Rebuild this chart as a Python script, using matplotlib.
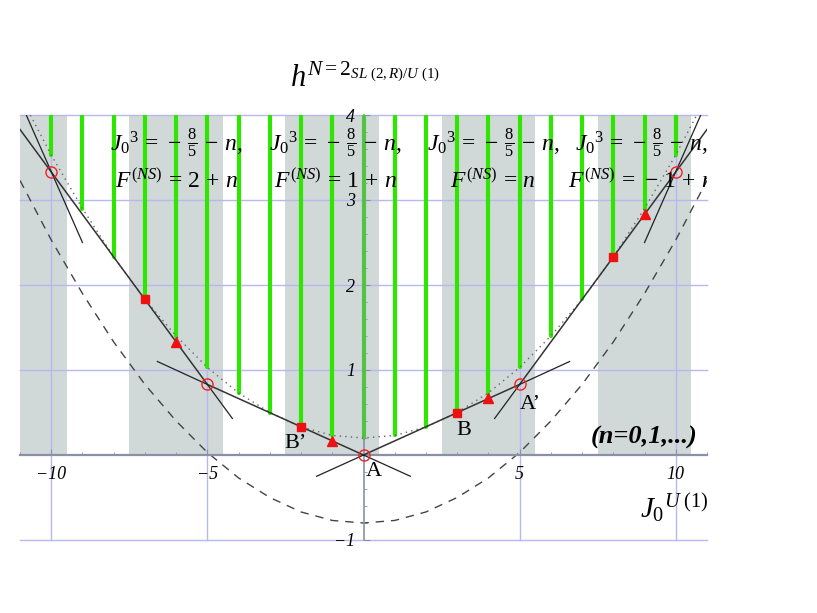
import matplotlib
matplotlib.use("Agg")
import matplotlib.pyplot as plt
from matplotlib.ticker import MultipleLocator

plt.rcParams['mathtext.fontset'] = 'custom'
plt.rcParams['mathtext.rm'] = 'Liberation Serif'
plt.rcParams['mathtext.it'] = 'Liberation Serif:italic'
plt.rcParams['mathtext.bf'] = 'Liberation Serif:bold'
plt.rcParams['font.family'] = ['Liberation Serif', 'DejaVu Serif']

# curves sampled at integer J0
xs = list(range(-11, 12))
dotted_h = [4.23, 3.53, 2.90, 2.33, 1.83, 1.40, 1.03, 0.73, 0.50, 0.33, 0.23, 0.20,
            0.23, 0.33, 0.50, 0.73, 1.03, 1.40, 1.83, 2.33, 2.90, 3.53, 4.23]
dashed_h = [3.23, 2.53, 1.90, 1.33, 0.83, 0.40, 0.03, -0.27, -0.50, -0.67, -0.77, -0.80,
            -0.77, -0.67, -0.50, -0.27, 0.03, 0.40, 0.83, 1.33, 1.90, 2.53, 3.23]

# green bars from the dotted curve up to the top
green_x = list(range(-10, 11))
green_bottom = [3.53, 2.90, 2.33, 1.83, 1.40, 1.03, 0.73, 0.50, 0.33, 0.23, 0.20,
                0.23, 0.33, 0.50, 0.73, 1.03, 1.40, 1.83, 2.33, 2.90, 3.53]

main_x = [-11, -10, -5, 0, 5, 10, 11]
main_h = [3.83, 3.33, 0.83, 0.0, 0.83, 3.33, 3.83]

# short crossing segments (x0, h0, x1, h1)
segs = [(-10.8, 4.0, -9.0, 2.5),
        (-6.6, 1.10, -5.0, 0.83),
        (-5.0, 0.83, -4.2, 0.43),
        (-1.5, -0.25, 0.0, 0.0),
        (0.0, 0.0, 1.5, -0.25),
        (4.2, 0.43, 5.0, 0.83),
        (5.0, 0.83, 6.6, 1.10),
        (9.0, 2.5, 10.8, 4.0)]

sq_x = [-7, -2, 3, 8]
sq_h = [1.83, 0.33, 0.50, 2.33]
tri_x = [-6, -1, 4, 9]
tri_h = [1.33, 0.17, 0.67, 2.83]
circ_x = [-10, -5, 0, 5, 10]
circ_h = [3.33, 0.83, 0.0, 0.83, 3.33]

band_lo = [-12.5, -7.5, -2.5, 2.5, 7.5]
band_hi = [-9.5, -4.5, 0.5, 5.5, 10.5]

block_x = [-6.0, -0.9, 4.15, 8.9]
f_labels = [r'2\,+\,n', r'\mathit{1}\,+\,n', r'n', r'-\,\mathit{1}\,+\,n']

fig = plt.figure(figsize=(8.17, 6.13), dpi=100)
ax = fig.add_axes([20/817, 1-540/613, 687/817, 425/613])
ax.set_xlim(-11, 11)
ax.set_ylim(-1, 4)

for lo, hi in zip(band_lo, band_hi):
    ax.fill_between([lo, hi], 0, 4, color='#d1d8d8', lw=0, zorder=0)

for x, b in zip(green_x, green_bottom):
    ax.plot([x, x], [b, 4], color='#2ee600', lw=3, solid_capstyle='round', zorder=2)

ax.plot(xs, dotted_h, color='#666666', lw=1, ls=(0, (1, 3)), zorder=3)
ax.plot(xs, dashed_h, color='#444444', lw=1, ls=(0, (6, 5)), zorder=3)
ax.plot(main_x, main_h, color='#333333', lw=1.1, zorder=4)
for x0, h0, x1, h1 in segs:
    ax.plot([x0, x1], [h0, h1], color='#222222', lw=0.9, zorder=4)

ax.plot(sq_x, sq_h, 's', color='#ee1111', ms=6, zorder=5)
ax.plot(tri_x, tri_h, '^', color='#ee1111', ms=7, zorder=5)
ax.plot(circ_x, circ_h, 'o', mfc='none', mec='#ee2222', mew=1, ms=8, zorder=5)

# axes through origin
for s in ['top', 'right']:
    ax.spines[s].set_visible(False)
ax.spines['bottom'].set_position('zero')
ax.spines['left'].set_position('zero')
ax.spines['bottom'].set_color('#8a90a8')
ax.spines['bottom'].set_linewidth(1.6)
ax.spines['left'].set_color('#8a90a8')
ax.spines['left'].set_linewidth(1.2)
ax.spines['bottom'].set_zorder(3)
ax.spines['left'].set_zorder(3)

ax.set_xticks([-10, -5, 5, 10])
ax.set_xticklabels(['\u221210', '\u22125', '5', '10'])
ax.set_yticks([-1, 1, 2, 3, 4])
ax.set_yticklabels(['\u22121', '1', '2', '3', '4'])
ax.xaxis.set_minor_locator(MultipleLocator(1))
ax.yaxis.set_minor_locator(MultipleLocator(0.2))
ax.tick_params(which='both', direction='in', color='#8a90a8')
ax.tick_params(which='major', length=4, width=0.8, labelsize=13)
ax.tick_params(which='minor', length=2, width=0.6)
ax.tick_params(axis='x', pad=8)
ax.tick_params(axis='y', pad=6)
for lab in ax.get_xticklabels() + ax.get_yticklabels():
    lab.set_fontstyle('italic')
ax.grid(True, which='major', color='#b8b8f0', lw=1)
ax.set_axisbelow(True)
for gl in ax.get_xgridlines() + ax.get_ygridlines():
    gl.set_clip_on(False)

for bx, fl in zip(block_x, f_labels):
    ax.text(bx, 3.67, r'$J_{\mathit{0}}{}^3\,=\,-\,\frac{8}{5}\,-\,n,$', fontsize=17,
            ha='center', va='center', zorder=6, clip_on=True)
    ax.text(bx, 3.22, r'$F^{(NS)}\,=\,' + fl + '$', fontsize=17, ha='center', va='center',
            zorder=6, clip_on=True)

ax.text(0.32, -0.2, 'A', fontsize=16, ha='center', va='center', zorder=6)
ax.text(5.35, 0.59, 'A\u2019', fontsize=16, ha='center', va='center', zorder=6)
ax.text(3.2, 0.29, 'B', fontsize=16, ha='center', va='center', zorder=6)
ax.text(-2.18, 0.13, 'B\u2019', fontsize=16, ha='center', va='center', zorder=6)

ax.text(9.0, 0.21, '(n=0,1,...)', fontsize=19, fontstyle='italic', fontweight='bold',
        ha='center', va='center', zorder=6)
ax.text(9.95, -0.62, r'$J_{\mathit{0}}{}^{U\ (\mathit{1})}$', fontsize=21, ha='center',
        va='center', zorder=6, clip_on=False)
ax.text(-2.35, 4.42, r'$h^{N=2_{SL\ (2,R)/U\ (\mathit{1})}}$', fontsize=22, ha='left',
        va='center', zorder=6, clip_on=False)

fig.savefig('out.png', dpi=100)
